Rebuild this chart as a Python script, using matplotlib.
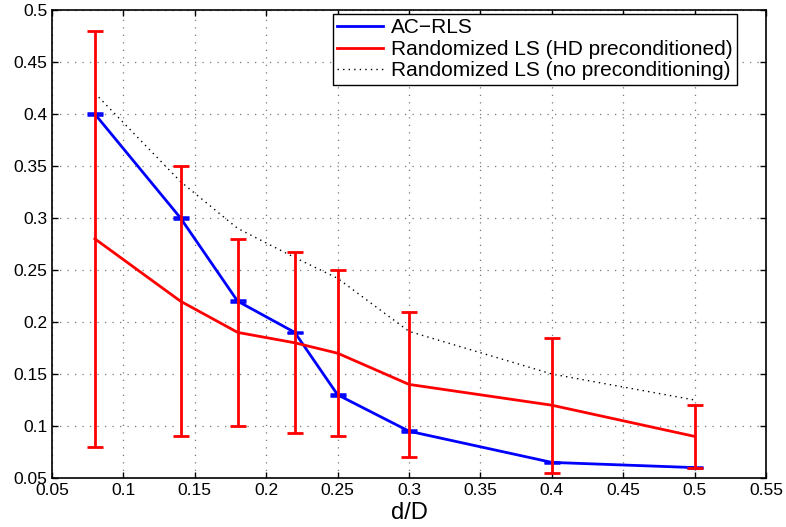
import matplotlib
matplotlib.use("Agg")
import matplotlib.pyplot as plt
from matplotlib.lines import Line2D
import numpy as np

plt.rcParams['font.family'] = ['Liberation Sans', 'DejaVu Sans']

# d/D values
x = [0.08, 0.14, 0.18, 0.22, 0.25, 0.3, 0.4, 0.5]

# AC-RLS
acrls = [0.40, 0.30, 0.22, 0.19, 0.13, 0.095, 0.065, 0.06]

# Randomized LS (HD preconditioned), mean and error-bar ends
hd = [0.28, 0.22, 0.19, 0.18, 0.17, 0.14, 0.12, 0.09]
hd_lo = [0.08, 0.09, 0.10, 0.093, 0.09, 0.07, 0.055, 0.06]
hd_hi = [0.48, 0.35, 0.28, 0.267, 0.25, 0.21, 0.185, 0.12]

# Randomized LS (no preconditioning)
noprec = [0.42, 0.335, 0.29, 0.262, 0.242, 0.191, 0.15, 0.125]

hd = np.array(hd)
yerr = [hd - np.array(hd_lo), np.array(hd_hi) - hd]

fig = plt.figure(figsize=(7.86, 5.27), dpi=100)
ax = fig.add_axes([52/786, 1 - 478/527, 714/786, 468/527])

ax.plot(x, noprec, color='black', lw=1, ls=(0, (1, 3)), zorder=1)
ax.errorbar(x, acrls, yerr=0.0008, color='blue', lw=2, capsize=6, capthick=1.8,
            elinewidth=2, zorder=2)
ax.errorbar(x, hd, yerr=yerr, color='red', lw=2, capsize=6, capthick=2,
            elinewidth=2, zorder=3)

ax.set_xlim(0.05, 0.55)
ax.set_ylim(0.05, 0.5)
ax.set_xticks(np.arange(0.05, 0.551, 0.05))
ax.set_yticks(np.arange(0.05, 0.501, 0.05))
ax.set_xticklabels(['0.05', '0.1', '0.15', '0.2', '0.25', '0.3', '0.35', '0.4', '0.45', '0.5', '0.55'])
ax.set_yticklabels(['0.05', '0.1', '0.15', '0.2', '0.25', '0.3', '0.35', '0.4', '0.45', '0.5'])
ax.tick_params(direction='in', top=True, right=True, labelsize=12.5, length=4, width=1)
ax.grid(True, color='#777777', ls=(0, (1, 5)), lw=0.9)
for s in ax.spines.values():
    s.set_linewidth(1.2)
ax.set_xlabel('d/D', fontsize=17, labelpad=3)

handles = [
    Line2D([], [], color='blue', lw=2),
    Line2D([], [], color='red', lw=2),
    Line2D([], [], color='black', lw=1, ls=(0, (1, 3))),
]
labels = ['AC\u2212RLS', 'Randomized LS (HD preconditioned)',
          'Randomized LS (no preconditioning)']
leg = ax.legend(handles, labels, loc='upper right', fontsize=15, frameon=True,
                fancybox=False, edgecolor='black', framealpha=1, handlelength=2.2,
                borderpad=0.2, labelspacing=0.12, handletextpad=0.4,
                borderaxespad=0, bbox_to_anchor=(0.959, 0.991))
leg.get_frame().set_linewidth(1)

fig.savefig('out.png', dpi=100)
